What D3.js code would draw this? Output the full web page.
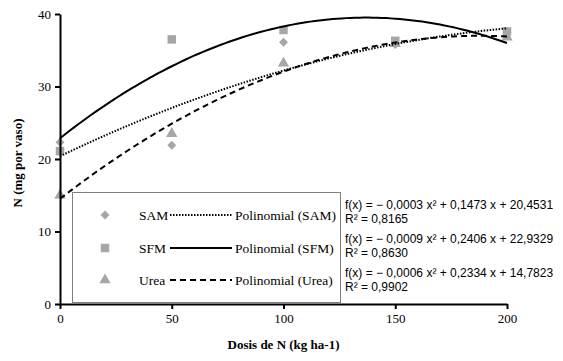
<!DOCTYPE html>
<html>
<head>
<meta charset="utf-8">
<script src="https://cdn.jsdelivr.net/npm/d3@7"></script>
<style>
  body { margin: 0; background: #fff; }
  svg { display: block; }
  .axis text { font-family: 'Liberation Serif', 'Times New Roman', serif; font-size: 13px; fill: #000; }
  .axis path, .axis line { stroke: #000; stroke-width: 2px; }
</style>
</head>
<body>
<div id="chart"></div>
<script>
// values
const doses = [0, 50, 100, 150, 200]
const sam = [22.3, 21.9, 36.1, 35.8, 37.4]
const sfm = [21.1, 36.5, 37.8, 36.3, 37.6]
const urea = [15.0, 23.5, 33.2, 35.9, 36.8]
const seriesNames = ['SAM', 'SFM', 'Urea']
const equations = [
  'f(x) = − 0,0003 x² + 0,1473 x + 20,4531',
  'f(x) = − 0,0009 x² + 0,2406 x + 22,9329',
  'f(x) = − 0,0006 x² + 0,2334 x + 14,7823'
]
const r2Labels = ['R² = 0,8165', 'R² = 0,8630', 'R² = 0,9902']
const xTicks = [0, 50, 100, 150, 200]
const yTicks = [0, 10, 20, 30, 40]

const width = 563
const height = 361
const margin = { top: 14, left: 60, right: 56, bottom: 57 }
const innerW = width - margin.left - margin.right
const innerH = height - margin.top - margin.bottom

const svg = d3
  .select('#chart')
  .append('svg')
  .attr('width', width)
  .attr('height', height)

const g = svg
  .append('g')
  .attr('transform', 'translate(' + margin.left + ',' + margin.top + ')')

const xPositionScale = d3.scaleLinear().domain([0, 200]).range([0, innerW])
const yPositionScale = d3.scaleLinear().domain([0, 40]).range([innerH, 0])

// least squares quadratic trendline, like Excel's "Polinomial"
function polyfit(xs, ys) {
  const s = [0, 0, 0, 0, 0]
  const t = [0, 0, 0]
  xs.forEach((x, i) => {
    for (let k = 0; k < 5; k++) s[k] += Math.pow(x, k)
    for (let k = 0; k < 3; k++) t[k] += ys[i] * Math.pow(x, k)
  })
  const m = [
    [s[0], s[1], s[2], t[0]],
    [s[1], s[2], s[3], t[1]],
    [s[2], s[3], s[4], t[2]]
  ]
  for (let i = 0; i < 3; i++) {
    for (let j = i + 1; j < 3; j++) {
      const f = m[j][i] / m[i][i]
      for (let k = i; k < 4; k++) m[j][k] -= f * m[i][k]
    }
  }
  const c = [0, 0, 0]
  for (let i = 2; i >= 0; i--) {
    let v = m[i][3]
    for (let k = i + 1; k < 3; k++) v -= m[i][k] * c[k]
    c[i] = v / m[i][i]
  }
  return x => c[0] + c[1] * x + c[2] * x * x
}

// diamond = square turned 45 degrees
const series = [
  { name: 'SAM', values: sam, symbol: d3.symbolSquare, size: 40, rot: 45, dash: '1.5,1.5' },
  { name: 'SFM', values: sfm, symbol: d3.symbolSquare, size: 72, rot: 0, dash: null },
  { name: 'Urea', values: urea, symbol: d3.symbolTriangle, size: 56, rot: 0, dash: '6,4' }
]

const markerColor = '#a6a6a6'

// markers
series.forEach(s => {
  g.selectAll('.pt-' + s.name)
    .data(doses.map((d, i) => ({ x: d, y: s.values[i] })))
    .enter()
    .append('path')
    .attr('class', 'pt-' + s.name)
    .attr('d', d3.symbol().type(s.symbol).size(s.size))
    .attr('transform', d => `translate(${xPositionScale(d.x)},${yPositionScale(d.y)}) rotate(${s.rot})`)
    .attr('fill', markerColor)
})

// trendlines
const line = d3
  .line()
  .x(d => xPositionScale(d[0]))
  .y(d => yPositionScale(d[1]))

series.forEach(s => {
  const fit = polyfit(doses, s.values)
  const pts = d3.range(0, 201, 2).map(x => [x, fit(x)])
  g.append('path')
    .datum(pts)
    .attr('d', line)
    .attr('fill', 'none')
    .attr('stroke', '#000')
    .attr('stroke-width', 2)
    .attr('stroke-dasharray', s.dash)
})

// axes
const yAxis = d3.axisLeft(yPositionScale).tickValues(yTicks).tickSize(5).tickSizeOuter(0).tickPadding(4)
g.append('g').attr('class', 'axis y-axis').call(yAxis)

const xAxis = d3.axisBottom(xPositionScale).tickValues(xTicks).tickSize(5).tickSizeOuter(0).tickPadding(5)
g.append('g')
  .attr('class', 'axis x-axis')
  .attr('transform', `translate(0,${innerH})`)
  .call(xAxis)

// axis titles
svg.append('text')
  .attr('x', margin.left + innerW / 2)
  .attr('y', 349)
  .attr('text-anchor', 'middle')
  .style('font-family', "'Liberation Serif', serif")
  .style('font-weight', 'bold')
  .style('font-size', '13px')
  .text('Dosis de N (kg ha-1)')

svg.append('text')
  .attr('transform', 'translate(22,163) rotate(-90)')
  .attr('text-anchor', 'middle')
  .style('font-family', "'Liberation Serif', serif")
  .style('font-weight', 'bold')
  .style('font-size', '13px')
  .text('N (mg por vaso)')

// legend
const legend = svg.append('g')
legend.append('rect')
  .attr('x', 72.5)
  .attr('y', 192.5)
  .attr('width', 268)
  .attr('height', 110)
  .attr('fill', '#fff')
  .attr('stroke', '#7f7f7f')
  .attr('stroke-width', 1)

const rowY = [215, 248, 280]
series.forEach((s, i) => {
  const y = rowY[i]
  legend.append('path')
    .attr('d', d3.symbol().type(s.symbol).size(s.size))
    .attr('transform', `translate(105,${y}) rotate(${s.rot})`)
    .attr('fill', markerColor)
  legend.append('text')
    .attr('x', 139)
    .attr('y', y + 4.5)
    .style('font-family', "'Liberation Serif', serif")
    .style('font-size', '13.5px')
    .text(seriesNames[i])
  legend.append('line')
    .attr('x1', 170)
    .attr('x2', 232)
    .attr('y1', y)
    .attr('y2', y)
    .attr('stroke', '#000')
    .attr('stroke-width', 2)
    .attr('stroke-dasharray', s.dash)
  legend.append('text')
    .attr('x', 235)
    .attr('y', y + 4.5)
    .style('font-family', "'Liberation Serif', serif")
    .style('font-size', '13.5px')
    .text('Polinomial (' + seriesNames[i] + ')')
})

// equations
const eqY = [209, 243, 277]
equations.forEach((eq, i) => {
  svg.append('text')
    .attr('x', 345)
    .attr('y', eqY[i])
    .style('font-family', "'Liberation Sans', Arial, sans-serif")
    .style('font-size', '12px')
    .text(eq)
  svg.append('text')
    .attr('x', 345)
    .attr('y', eqY[i] + 14)
    .style('font-family', "'Liberation Sans', Arial, sans-serif")
    .style('font-size', '12px')
    .text(r2Labels[i])
})
</script>
</body>
</html>
